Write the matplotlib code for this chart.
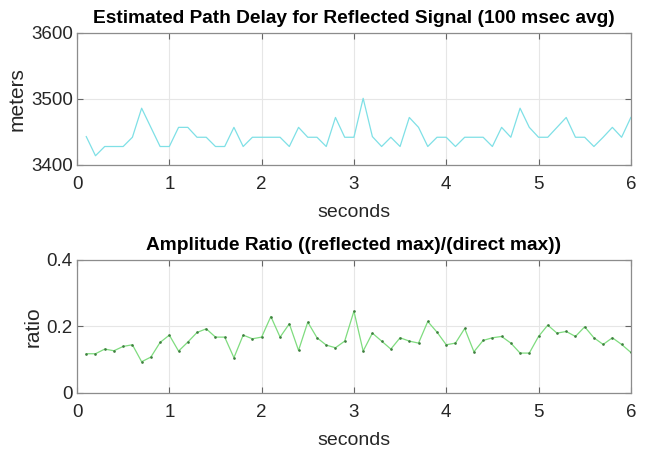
import matplotlib
matplotlib.use('Agg')
import matplotlib.pyplot as plt
import numpy as np

plt.rcParams['font.family'] = ['Liberation Sans', 'DejaVu Sans']

# time stamps (s), one every 100 msec
t = np.round(np.arange(1, 61) * 0.1, 1)

# estimated path delay (meters)
delay = [3443, 3414, 3428, 3428, 3428, 3442, 3486, 3457, 3428, 3428,
         3457, 3457, 3442, 3442, 3428, 3428, 3457, 3428, 3442, 3442,
         3442, 3442, 3428, 3457, 3442, 3442, 3428, 3472, 3442, 3442,
         3501, 3443, 3428, 3442, 3428, 3472, 3457, 3428, 3442, 3442,
         3428, 3442, 3442, 3442, 3428, 3457, 3442, 3486, 3457, 3442,
         3442, 3457, 3472, 3442, 3442, 3428, 3442, 3457, 3442, 3472]

# amplitude ratio (reflected max / direct max)
ratio = [0.118, 0.118, 0.132, 0.127, 0.140, 0.145, 0.094, 0.108, 0.152, 0.174,
         0.126, 0.153, 0.182, 0.193, 0.168, 0.168, 0.106, 0.174, 0.163, 0.168,
         0.230, 0.168, 0.208, 0.128, 0.213, 0.166, 0.144, 0.136, 0.156, 0.246,
         0.126, 0.180, 0.156, 0.132, 0.166, 0.156, 0.150, 0.215, 0.183, 0.145,
         0.150, 0.194, 0.124, 0.158, 0.166, 0.170, 0.150, 0.120, 0.120, 0.170,
         0.204, 0.180, 0.185, 0.170, 0.199, 0.166, 0.146, 0.166, 0.146, 0.122]

fig = plt.figure(figsize=(6.5, 4.53), dpi=100)
ax1 = fig.add_axes([0.1185, 0.6358, 0.852, 0.2914])
ax2 = fig.add_axes([0.1185, 0.1325, 0.852, 0.2936])


def style(ax):
    ax.grid(True, color='#e6e6e6', linewidth=0.8)
    ax.set_axisbelow(True)
    for s in ax.spines.values():
        s.set_color('#8c8c8c')
        s.set_linewidth(0.9)
    ax.tick_params(direction='in', top=True, right=True, length=4,
                   color='#666666', labelsize=13.5, labelcolor='#262626')
    ax.tick_params(axis='x', pad=8)
    ax.tick_params(axis='y', pad=3)
    ax.set_xlim(0, 6)
    ax.set_xticks(range(7))


ax1.plot(t, delay, color='#7fe0e6', linewidth=0.9)
style(ax1)
ax1.set_ylim(3400, 3600)
ax1.set_yticks([3400, 3500, 3600])
ax1.set_title('Estimated Path Delay for Reflected Signal (100 msec avg)',
              fontsize=13.8, fontweight='bold', pad=7)
ax1.set_xlabel('seconds', fontsize=14, color='#262626', labelpad=8)
ax1.set_ylabel('meters', fontsize=15, color='#262626', labelpad=3)

ax2.plot(t, ratio, color='#7fdc7f', linewidth=0.9, marker='.',
         markersize=1.8, markeredgecolor='#3f7f3f', markerfacecolor='#3f7f3f')
style(ax2)
ax2.set_ylim(0, 0.4)
ax2.set_yticks([0, 0.2, 0.4])
ax2.set_yticklabels(['0', '0.2', '0.4'])
ax2.set_title('Amplitude Ratio ((reflected max)/(direct max))',
              fontsize=13.8, fontweight='bold', pad=7)
ax2.set_xlabel('seconds', fontsize=14, color='#262626', labelpad=8)
ax2.set_ylabel('ratio', fontsize=15, color='#262626', labelpad=3)

fig.savefig('out.png', dpi=100)
